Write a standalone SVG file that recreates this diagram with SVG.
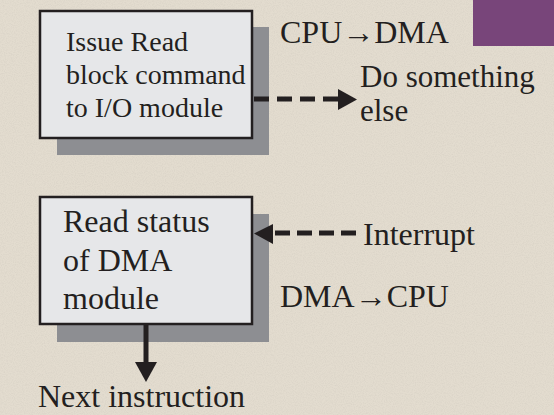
<svg xmlns="http://www.w3.org/2000/svg" width="554" height="415" viewBox="0 0 554 415">
<defs>
<style>
.t{fill:#231f20}
.s28{font-size:28px}
.s32{font-size:32px}
.box{fill:#e6e7e9;stroke:#231f20;stroke-width:2.5}
.shadow{fill:#8d8e92}
.line{stroke:#231f20;stroke-width:5;fill:none}
.dash{stroke:#231f20;stroke-width:5;fill:none;stroke-dasharray:15 8}
.head{fill:#231f20}
</style>
<filter id="grain" x="0" y="0" width="100%" height="100%">
<feTurbulence type="fractalNoise" baseFrequency="0.9" numOctaves="2" seed="3" result="n"/>
<feColorMatrix in="n" type="matrix" values="0 0 0 0 0.5  0 0 0 0 0.47  0 0 0 0 0.42  0 0 0 -1.2 0.75"/>
</filter>
</defs>
<rect width="554" height="415" fill="#e3dccf"/>
<rect width="554" height="415" filter="url(#grain)" opacity="0.35"/>
<rect x="473" y="0" width="81" height="46" fill="#78457a"/>

<g font-family="'Liberation Serif', 'Times New Roman', Tinos, 'DejaVu Serif', serif">
<g id="node-issue">
<rect class="shadow" x="57" y="27" width="212" height="128"/>
<rect class="box" x="40" y="11" width="212" height="127"/>
<text class="t s28" x="66" y="51">Issue Read</text>
<text class="t s28" x="66" y="84">block command</text>
<text class="t s28" x="66" y="117">to I/O module</text>
</g>

<g id="node-read">
<rect class="shadow" x="57" y="214" width="212" height="128"/>
<rect class="box" x="40" y="197" width="212" height="127"/>
<text class="t s32" x="63" y="232">Read status</text>
<text class="t s32" x="63" y="271">of DMA</text>
<text class="t s32" x="63" y="309">module</text>
</g>

<g id="connectors">
<line class="dash" x1="254" y1="99" x2="338" y2="99"/>
<polygon class="head" points="338,89 357,99.5 338,110"/>
<line class="dash" x1="275" y1="233" x2="362" y2="233" style="stroke-dasharray:15 7"/>
<polygon class="head" points="273,224 254,233.5 273,244"/>
<line class="line" x1="146" y1="324" x2="146" y2="364"/>
<polygon class="head" points="135,362 157,362 146,382"/>
</g>

<g id="labels">
<text class="t s32" x="280" y="43">CPU→DMA</text>
<text class="t" font-size="31" x="360" y="87">Do something</text>
<text class="t" font-size="31" x="360" y="121">else</text>
<text class="t s32" x="363" y="245">Interrupt</text>
<text class="t s32" x="280" y="307">DMA→CPU</text>
<text class="t s32" x="38" y="407">Next instruction</text>
</g>
</g>
</svg>
